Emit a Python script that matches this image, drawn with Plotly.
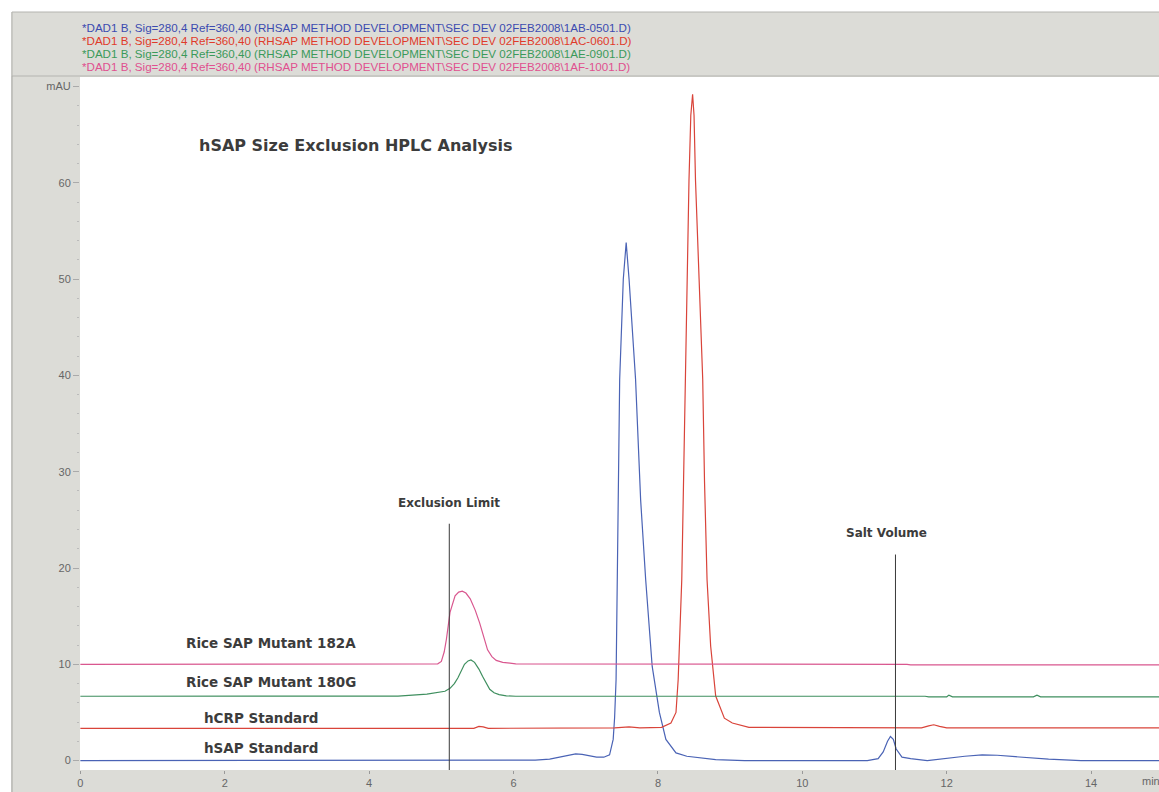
import plotly.graph_objects as go

# ---------------- data ----------------
t_hsap = [0, 6.3, 6.5, 6.65, 6.78, 6.86, 6.95, 7.05, 7.15, 7.25, 7.33, 7.38, 7.40, 7.42, 7.435,
          7.45, 7.47, 7.52, 7.56, 7.60, 7.69, 7.76, 7.83, 7.92, 8.02, 8.11, 8.25, 8.40, 8.57, 8.8,
          9.2, 10.9, 11.05, 11.12, 11.18, 11.22, 11.26, 11.30, 11.38, 11.5, 11.73, 12.03, 12.25,
          12.49, 12.7, 12.95, 13.41, 13.86, 14.94]
v_hsap = [0, 0.05, 0.15, 0.4, 0.62, 0.7, 0.65, 0.5, 0.35, 0.35, 0.6, 2.2, 4.5, 8.4, 18.8,
          29.0, 39.6, 50.0, 53.8, 50.0, 39.6, 27.1, 18.8, 9.8, 5.0, 2.2, 0.8, 0.45, 0.3, 0.1,
          0.0, 0.0, 0.2, 0.9, 2.0, 2.5, 2.2, 1.2, 0.35, 0.2, 0.0, 0.3, 0.45,
          0.6, 0.55, 0.4, 0.15, 0.0, 0.0]

t_hcrp = [0, 5.45, 5.52, 5.58, 5.65, 7.4, 7.6, 7.75, 8.05, 8.18, 8.25, 8.28, 8.33, 8.355, 8.375,
          8.40, 8.43, 8.455, 8.48, 8.50, 8.52, 8.57, 8.62, 8.645, 8.68, 8.73, 8.80, 8.92, 9.03,
          9.26, 11.65, 11.75, 11.82, 11.9, 12.0, 14.94]
v_hcrp = [3.35, 3.35, 3.55, 3.5, 3.35, 3.4, 3.5, 3.4, 3.45, 3.9, 5.0, 8.4, 18.8, 29.0, 39.6,
          50.0, 60.3, 67.0, 69.2, 67.0, 60.3, 50.0, 39.6, 29.0, 18.8, 11.9, 6.7, 4.4, 3.9,
          3.45, 3.4, 3.6, 3.72, 3.55, 3.4, 3.4]

t_m180g = [0, 4.4, 4.8, 5.05, 5.12, 5.18, 5.23, 5.28, 5.32, 5.37, 5.41, 5.46, 5.52, 5.57, 5.62,
           5.67, 5.73, 5.80, 5.9, 6.03, 11.7, 11.75, 12.0, 12.03, 12.08, 13.2, 13.25, 13.3, 14.94]
v_m180g = [6.68, 6.7, 6.9, 7.2, 7.5, 8.0, 8.6, 9.4, 10.0, 10.35, 10.45, 10.2, 9.5, 8.75, 8.0,
           7.4, 7.05, 6.85, 6.72, 6.68, 6.68, 6.62, 6.62, 6.8, 6.62, 6.62, 6.8, 6.62, 6.62]

t_m182a = [0, 4.95, 5.0, 5.04, 5.07, 5.12, 5.19, 5.24, 5.29, 5.34, 5.40, 5.47, 5.53, 5.58, 5.64,
           5.70, 5.76, 5.85, 6.03, 11.45, 11.5, 14.94]
v_m182a = [10.0, 10.05, 10.3, 11.3, 12.6, 15.4, 17.1, 17.5, 17.6, 17.4, 16.8, 15.6, 14.3, 13.0, 11.5,
           10.8, 10.4, 10.2, 10.05, 10.0, 9.93, 9.93]

series_names = ["hSAP Standard", "hCRP Standard", "Rice SAP Mutant 180G", "Rice SAP Mutant 182A"]
header_lines = [
    "*DAD1 B, Sig=280,4 Ref=360,40 (RHSAP METHOD DEVELOPMENT\\SEC DEV 02FEB2008\\1AB-0501.D)",
    "*DAD1 B, Sig=280,4 Ref=360,40 (RHSAP METHOD DEVELOPMENT\\SEC DEV 02FEB2008\\1AC-0601.D)",
    "*DAD1 B, Sig=280,4 Ref=360,40 (RHSAP METHOD DEVELOPMENT\\SEC DEV 02FEB2008\\1AE-0901.D)",
    "*DAD1 B, Sig=280,4 Ref=360,40 (RHSAP METHOD DEVELOPMENT\\SEC DEV 02FEB2008\\1AF-1001.D)",
]
x_ticks = [0, 2, 4, 6, 8, 10, 12, 14]
y_ticks = [0, 10, 20, 30, 40, 50, 60, 70]
y_ticktext = ["0", "10", "20", "30", "40", "50", "60", "mAU"]

exclusion_limit_t = 5.11
exclusion_line_top = 24.6
salt_volume_t = 11.29
salt_line_top = 21.4

# ---------------- styling ----------------
W, H = 1159, 792
ML, MR, MT, MB = 80, 0, 77, 22
PW, PH = W - ML - MR, H - MT - MB
GRAY = "#dcdcd7"
EDGE = "#b4b4b0"
line_colors = ["#4a63b5", "#d9443a", "#3f8f5f", "#d9578f"]
head_colors = ["#3b4bb0", "#e03a2a", "#3a9a5a", "#e0508f"]
LABEL = "#3c3c3c"


def px(x):
    return (x - ML) / PW


def py(y):
    return (H - MB - y) / PH


fig = go.Figure()
for t, v, name, col in zip([t_hsap, t_hcrp, t_m180g, t_m182a],
                           [v_hsap, v_hcrp, v_m180g, v_m182a],
                           series_names, line_colors):
    fig.add_trace(go.Scatter(x=t, y=v, mode="lines", name=name,
                             line=dict(color=col, width=1.2), hoverinfo="skip"))

shapes = [
    dict(type="rect", xref="paper", yref="paper", x0=px(0), x1=px(11), y0=py(H), y1=py(0),
         fillcolor="white", line=dict(width=0), layer="below"),
    dict(type="rect", xref="paper", yref="paper", x0=px(0), x1=px(W), y0=py(12), y1=py(0),
         fillcolor="white", line=dict(width=0), layer="below"),
    dict(type="rect", xref="paper", yref="paper", x0=px(12), x1=px(W + 5), y0=py(76), y1=py(12),
         fillcolor="rgba(0,0,0,0)", line=dict(color=EDGE, width=1)),
    dict(type="line", xref="paper", yref="paper", x0=px(12), x1=px(12), y0=py(H), y1=py(76),
         line=dict(color="#a8a8a4", width=1)),
    dict(type="line", xref="x", yref="y", x0=exclusion_limit_t, x1=exclusion_limit_t,
         y0=-1, y1=exclusion_line_top, line=dict(color="#3a3a3a", width=1)),
    dict(type="line", xref="x", yref="y", x0=salt_volume_t, x1=salt_volume_t,
         y0=-1, y1=salt_line_top, line=dict(color="#3a3a3a", width=1)),
]

annotations = []
for i, (txt, col) in enumerate(zip(header_lines, head_colors)):
    annotations.append(dict(xref="paper", yref="paper", x=px(80), y=py(27 + 13 * i),
                            xanchor="left", yanchor="middle", showarrow=False, text=txt,
                            font=dict(family="Liberation Sans, Arial", size=11.6, color=col)))

BOLD = "DejaVu Sans, Verdana, sans-serif"
annotations += [
    dict(x=1.61, y=63.9, xanchor="left", yanchor="middle", showarrow=False,
         text="<b>hSAP Size Exclusion HPLC Analysis</b>", font=dict(family=BOLD, size=16, color=LABEL)),
    dict(x=exclusion_limit_t, y=26.8, xanchor="center", yanchor="middle", showarrow=False,
         text="<b>Exclusion Limit</b>", font=dict(family=BOLD, size=12, color=LABEL)),
    dict(x=salt_volume_t - 0.12, y=23.65, xanchor="center", yanchor="middle", showarrow=False,
         text="<b>Salt Volume</b>", font=dict(family=BOLD, size=12, color=LABEL)),
    dict(x=1.43, y=12.17, xanchor="left", yanchor="middle", showarrow=False,
         text="<b>" + series_names[3] + "</b>", font=dict(family=BOLD, size=13.5, color=LABEL)),
    dict(x=1.43, y=8.18, xanchor="left", yanchor="middle", showarrow=False,
         text="<b>" + series_names[2] + "</b>", font=dict(family=BOLD, size=13.5, color=LABEL)),
    dict(x=1.68, y=4.38, xanchor="left", yanchor="middle", showarrow=False,
         text="<b>" + series_names[1] + "</b>", font=dict(family=BOLD, size=13.5, color=LABEL)),
    dict(x=1.68, y=1.27, xanchor="left", yanchor="middle", showarrow=False,
         text="<b>" + series_names[0] + "</b>", font=dict(family=BOLD, size=13.5, color=LABEL)),
    dict(xref="paper", yref="paper", x=px(1140), y=py(781), xanchor="left", yanchor="middle",
         showarrow=False, text="min", font=dict(family="Liberation Sans, Arial", size=11, color="#666")),
]

fig.update_layout(
    width=W, height=H,
    margin=dict(l=ML, r=MR, t=MT, b=MB, pad=0),
    paper_bgcolor=GRAY, plot_bgcolor="white",
    showlegend=False,
    shapes=shapes, annotations=annotations,
    xaxis=dict(range=[-0.005, 14.94], tickvals=x_ticks, showgrid=False, zeroline=False,
               showline=False, ticks="outside", ticklen=3, tickcolor="#999",
               tickfont=dict(family="Liberation Sans, Arial", size=11, color="#666")),
    yaxis=dict(range=[-0.98, 71.0], tickvals=y_ticks, ticktext=y_ticktext, showgrid=False,
               zeroline=False, showline=False, ticks="outside", ticklen=6, tickcolor="#aaa",
               tickfont=dict(family="Liberation Sans, Arial", size=11, color="#666"),
               minor=dict(dtick=2, ticks="outside", ticklen=2, tickcolor="#bbb")),
)

fig.write_html("out.html")
